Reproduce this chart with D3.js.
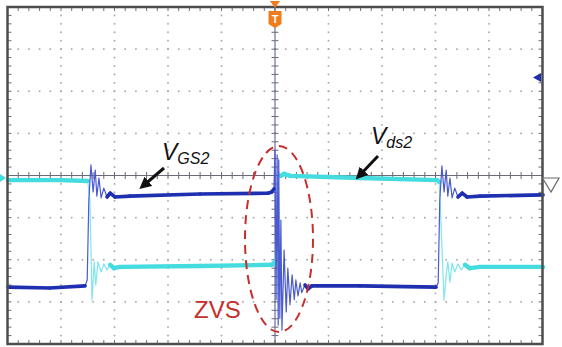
<!DOCTYPE html>
<html>
<head>
<meta charset="utf-8">
<script src="https://cdn.jsdelivr.net/npm/d3@7"></script>
<style>
body { margin: 0; background: #fff; }
svg { display: block; }
</style>
</head>
<body>
<div id="scope"></div>
<script>
var w = 562;
var h = 347;

// traces, in screen divisions: [time, level]
var vds2 = [
    [-4.99, -0.11], [-4.02, -0.11], [-3.50, -0.13], [-3.46, -0.58], [-3.42, -2.96],
    [-3.38, -2.05], [-3.35, -2.60], [-3.31, -2.05], [-3.25, -2.29], [-3.20, -2.10],
    [-3.14, -2.24], [-3.08, -2.12], [-3.01, -2.20], [-2.90, -2.17], [-1.40, -2.15],
    [-0.06, -2.12], [0.00, -2.05], [0.04, -0.58], [0.07, 0.08], [0.11, -0.01],
    [0.17, 0.04], [0.28, -0.01], [1.59, -0.06], [3.03, -0.11], [3.07, -0.15],
    [3.10, -1.06], [3.16, -2.96], [3.20, -2.36], [3.23, -2.05], [3.27, -2.53],
    [3.31, -2.08], [3.36, -2.29], [3.42, -2.10], [3.48, -2.24], [3.55, -2.12],
    [3.64, -2.20], [3.83, -2.17], [5.01, -2.17]
];

var vgs2 = [
    [-4.99, -2.65], [-4.21, -2.67], [-3.55, -2.62], [-3.51, -2.48], [-3.48, -0.58],
    [-3.44, 0.25], [-3.40, -0.39], [-3.36, 0.13], [-3.33, -0.49], [-3.29, -0.06],
    [-3.25, -0.53], [-3.20, -0.30], [-3.14, -0.51], [-3.08, -0.42], [-2.99, -0.51],
    [-2.71, -0.49], [-1.40, -0.44], [-0.13, -0.42], [-0.06, -0.39], [-0.02, -0.32],
    [0.00, 0.61], [0.02, -2.95], [0.04, 0.49], [0.06, -3.55], [0.07, 0.37],
    [0.09, -3.39], [0.11, -1.06], [0.13, -3.67], [0.17, -1.77], [0.21, -3.24],
    [0.24, -2.20], [0.28, -3.07], [0.32, -2.36], [0.36, -2.95], [0.39, -2.48],
    [0.43, -2.86], [0.47, -2.55], [0.50, -2.78], [0.56, -2.60], [0.62, -2.69],
    [0.69, -2.62], [1.59, -2.62], [3.01, -2.65], [3.05, -2.55], [3.08, -0.58],
    [3.12, 0.23], [3.16, -0.39], [3.20, 0.13], [3.23, -0.49], [3.27, -0.06],
    [3.31, -0.53], [3.36, -0.30], [3.42, -0.51], [3.50, -0.42], [3.59, -0.51],
    [3.83, -0.49], [5.01, -0.46]
];

var xDivs = 10;
var yDivs = 8;
var minorPerDiv = 5;

var svg = d3.select("#scope")
    .append("svg")
    .attr("width", w)
    .attr("height", h);

var xScale = d3.scaleLinear().domain([-xDivs / 2, xDivs / 2]).range([7.5, 542.5]);
var yScale = d3.scaleLinear().domain([-yDivs / 2, yDivs / 2]).range([344, 7]);

var x0 = xScale(-xDivs / 2), x1 = xScale(xDivs / 2);
var y0 = yScale(yDivs / 2), y1 = yScale(-yDivs / 2);

var xMinor = d3.range(-xDivs / 2 * minorPerDiv, xDivs / 2 * minorPerDiv + 1).map(function (d) { return d / minorPerDiv; });
var yMinor = d3.range(-yDivs / 2 * minorPerDiv, yDivs / 2 * minorPerDiv + 1).map(function (d) { return d / minorPerDiv; });
var xMajor = d3.range(-xDivs / 2 + 1, xDivs / 2).filter(function (d) { return d !== 0; });
var yMajor = d3.range(-yDivs / 2 + 1, yDivs / 2).filter(function (d) { return d !== 0; });

var grid = svg.append("g").attr("fill", "#a4a4a4");

// dotted vertical grid lines
xMajor.forEach(function (gx) {
    grid.selectAll(null)
        .data(yMinor.slice(1, -1))
        .enter()
        .append("rect")
        .attr("x", xScale(gx) - 0.8)
        .attr("y", function (d) { return yScale(d) - 0.8; })
        .attr("width", 1.6)
        .attr("height", 1.6);
});

// dotted horizontal grid lines
yMajor.forEach(function (gy) {
    grid.selectAll(null)
        .data(xMinor.slice(1, -1))
        .enter()
        .append("rect")
        .attr("x", function (d) { return xScale(d) - 0.8; })
        .attr("y", yScale(gy) - 0.8)
        .attr("width", 1.6)
        .attr("height", 1.6);
});

// centre axes with minor ticks
var axes = svg.append("g").attr("stroke", "#6a6a78").attr("stroke-width", 1);
axes.append("line").attr("x1", x0).attr("x2", x1).attr("y1", yScale(0)).attr("y2", yScale(0));
axes.append("line").attr("x1", xScale(0)).attr("x2", xScale(0)).attr("y1", y0).attr("y2", y1)
    .attr("stroke", "#4e5290");
axes.selectAll(null)
    .data(xMinor)
    .enter()
    .append("line")
    .attr("x1", function (d) { return xScale(d); })
    .attr("x2", function (d) { return xScale(d); })
    .attr("y1", yScale(0) - 3.5)
    .attr("y2", yScale(0) + 3.5);
axes.selectAll(null)
    .data(yMinor)
    .enter()
    .append("line")
    .attr("x1", xScale(0) - 3.5)
    .attr("x2", xScale(0) + 3.5)
    .attr("y1", function (d) { return yScale(d); })
    .attr("y2", function (d) { return yScale(d); });

// border ticks
var edge = svg.append("g").attr("stroke", "#707070").attr("stroke-width", 1);
edge.selectAll(null).data(xMinor).enter().append("line")
    .attr("x1", function (d) { return xScale(d); }).attr("x2", function (d) { return xScale(d); })
    .attr("y1", y0).attr("y2", y0 + 4);
edge.selectAll(null).data(xMinor).enter().append("line")
    .attr("x1", function (d) { return xScale(d); }).attr("x2", function (d) { return xScale(d); })
    .attr("y1", y1).attr("y2", y1 - 4);
edge.selectAll(null).data(yMinor).enter().append("line")
    .attr("y1", function (d) { return yScale(d); }).attr("y2", function (d) { return yScale(d); })
    .attr("x1", x0).attr("x2", x0 + 4);
edge.selectAll(null).data(yMinor).enter().append("line")
    .attr("y1", function (d) { return yScale(d); }).attr("y2", function (d) { return yScale(d); })
    .attr("x1", x1).attr("x2", x1 - 4);

// traces: thin pass for fast edges, thick pass for settled parts
var line = d3.line()
    .x(function (d) { return xScale(d[0]); })
    .y(function (d) { return yScale(d[1]); });

function drawTrace(data, thin, thick, width) {
    svg.append("path")
        .datum(data)
        .attr("d", line)
        .attr("fill", "none")
        .attr("stroke", thin)
        .attr("stroke-width", 1.2)
        .attr("stroke-linejoin", "round");
    var pairs = d3.pairs(data).filter(function (p) {
        var dx = Math.abs(xScale(p[1][0]) - xScale(p[0][0]));
        var dy = Math.abs(yScale(p[1][1]) - yScale(p[0][1]));
        return dy < 0.8 * dx + 1.5;
    });
    svg.append("g")
        .selectAll("line")
        .data(pairs)
        .enter()
        .append("line")
        .attr("x1", function (p) { return xScale(p[0][0]); })
        .attr("y1", function (p) { return yScale(p[0][1]); })
        .attr("x2", function (p) { return xScale(p[1][0]); })
        .attr("y2", function (p) { return yScale(p[1][1]); })
        .attr("stroke", thick)
        .attr("stroke-width", width)
        .attr("stroke-linecap", "round");
}

drawTrace(vds2, "#7fe6ee", "#45dcdf", 4.4);
drawTrace(vgs2, "#4a5ad0", "#1e2fb0", 3.6);

// frame
svg.append("rect")
    .attr("x", x0).attr("y", y0)
    .attr("width", x1 - x0).attr("height", y1 - y0)
    .attr("fill", "none")
    .attr("stroke", "#4d4d4d")
    .attr("stroke-width", 2.5);

// trigger marker
var tx = xScale(0);
svg.append("path")
    .attr("d", "M" + (tx - 5) + ",1 L" + (tx + 5) + ",1 L" + tx + ",8 Z")
    .attr("fill", "#f07c1c");
svg.append("path")
    .attr("d", "M" + (tx - 6.5) + ",11 L" + (tx + 6.5) + ",11 L" + (tx + 6.5) + ",24 L" + tx + ",28 L" + (tx - 6.5) + ",24 Z")
    .attr("fill", "#f07c1c");
svg.append("text")
    .attr("x", tx).attr("y", 22.5)
    .attr("text-anchor", "middle")
    .attr("font-family", "Liberation Sans, Arial, sans-serif")
    .attr("font-weight", "bold")
    .attr("font-size", "11px")
    .attr("fill", "#fff")
    .text("T");

// channel markers
svg.append("path").attr("d", "M533,77.5 L541,73 L541,82 Z").attr("fill", "#1e2fb0");
svg.append("path").attr("d", "M0,174 L6,178 L0,182 Z").attr("fill", "#45dcdf");
svg.append("path")
    .attr("d", "M" + x1 + ",178 L559,178 L551,192 Z")
    .attr("fill", "#fff")
    .attr("stroke", "#6a6a6a")
    .attr("stroke-width", 1.2);

// labels
var font = "Liberation Sans, Arial, sans-serif";

function label(x, y, main, sub) {
    var t = svg.append("text")
        .attr("x", x).attr("y", y)
        .attr("font-family", font)
        .attr("font-style", "italic")
        .attr("fill", "#111");
    t.append("tspan").attr("font-size", "23px").text(main);
    t.append("tspan").attr("font-size", "16px").attr("dy", 4).text(sub);
}

label(162, 160, "V", "GS2");
label(371, 144, "V", "ds2");

svg.append("defs").append("marker")
    .attr("id", "head")
    .attr("viewBox", "0 0 10 10")
    .attr("refX", 6).attr("refY", 5)
    .attr("markerWidth", 4).attr("markerHeight", 4)
    .attr("orient", "auto")
    .append("path")
    .attr("d", "M0,0 L10,5 L0,10 Z")
    .attr("fill", "#111");

svg.append("line")
    .attr("x1", 164).attr("y1", 168).attr("x2", 143).attr("y2", 186)
    .attr("stroke", "#111").attr("stroke-width", 3)
    .attr("marker-end", "url(#head)");
svg.append("line")
    .attr("x1", 378).attr("y1", 156).attr("x2", 359).attr("y2", 176)
    .attr("stroke", "#111").attr("stroke-width", 3)
    .attr("marker-end", "url(#head)");

svg.append("ellipse")
    .attr("cx", 279).attr("cy", 239)
    .attr("rx", 34).attr("ry", 93)
    .attr("fill", "none")
    .attr("stroke", "#c6302c")
    .attr("stroke-width", 2)
    .attr("stroke-dasharray", "9,6");

svg.append("text")
    .attr("x", 194).attr("y", 318)
    .attr("font-family", font)
    .attr("font-size", "24px")
    .attr("fill", "#c6302c")
    .text("ZVS");
</script>
</body>
</html>
